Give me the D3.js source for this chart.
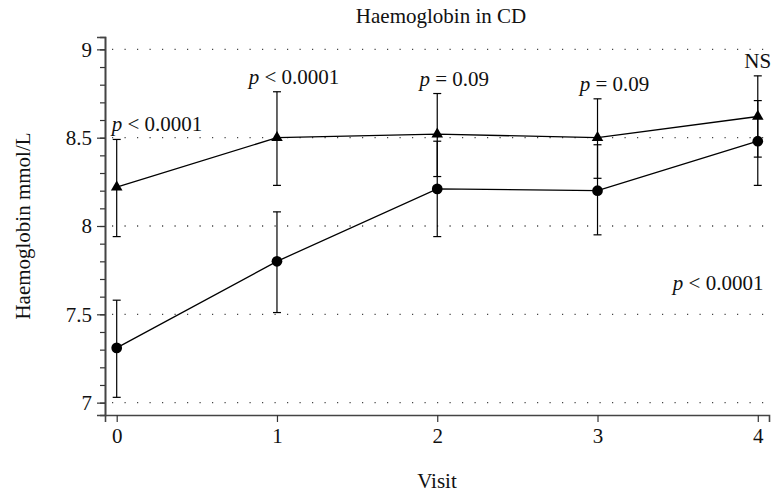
<!DOCTYPE html>
<html>
<head>
<meta charset="utf-8">
<script src="https://cdn.jsdelivr.net/npm/d3@7"></script>
<style>
  body { margin: 0; background: #fff; }
  text { font-family: "Liberation Serif", "DejaVu Serif", serif; fill: #111; }
</style>
</head>
<body>
<svg width="771" height="496"></svg>
<script>
// data
const visits = [0, 1, 2, 3, 4];
// upper series (triangles)
const triMean = [8.22, 8.50, 8.52, 8.50, 8.62];
const triLow  = [7.94, 8.23, 8.28, 8.27, 8.39];
const triHigh = [8.49, 8.76, 8.75, 8.72, 8.85];
// lower series (circles)
const circMean = [7.31, 7.80, 8.21, 8.20, 8.48];
const circLow  = [7.03, 7.51, 7.94, 7.95, 8.23];
const circHigh = [7.58, 8.08, 8.48, 8.46, 8.71];
// p-values per visit, shown above the triangle error bars
const pLabels = [["p", " < 0.0001"], ["p", " < 0.0001"], ["p", " = 0.09"], ["p", " = 0.09"], ["", "NS"]];
const trendLabel = ["p", " < 0.0001"];
const yTicks = [7, 7.5, 8, 8.5, 9];

const svg = d3.select("svg");
const fs = "21px";

// scales
const x = d3.scaleLinear().domain([-0.073, 4.07]).range([105, 769]);
const y = d3.scaleLinear().domain([6.93, 9.07]).range([415, 37]);

// dotted gridlines
svg.append("g")
  .selectAll("line")
  .data(yTicks)
  .join("line")
  .attr("x1", 112).attr("x2", 769)
  .attr("y1", d => y(d)).attr("y2", d => y(d))
  .attr("stroke", "#444")
  .attr("stroke-width", 1.3)
  .attr("stroke-dasharray", "1.2,11.3");

// y axis with minor ticks
const yAxis = svg.append("g")
  .attr("transform", "translate(105,0)");
yAxis.call(d3.axisLeft(y).tickValues(d3.range(7, 9.01, 0.1)).tickSize(5).tickFormat(""));
yAxis.append("g").call(d3.axisLeft(y).tickValues(yTicks).tickSize(8).tickPadding(5).tickFormat(d3.format("")));
yAxis.selectAll(".domain").attr("stroke", "#444").attr("stroke-width", 1.6);
yAxis.selectAll(".tick line").attr("stroke", "#333").attr("stroke-width", 1.2);
yAxis.selectAll("text").style("font-size", fs).attr("fill", "#111")
  .style("font-family", "'Liberation Serif', serif");

// x axis
const xAxis = svg.append("g")
  .attr("transform", "translate(0,415)")
  .call(d3.axisBottom(x).tickValues(visits).tickSize(7).tickPadding(6).tickFormat(d3.format("d")));
xAxis.select(".domain").attr("stroke", "#444").attr("stroke-width", 1.6);
xAxis.selectAll(".tick line").attr("stroke", "#333").attr("stroke-width", 1.2);
xAxis.selectAll("text").style("font-size", fs).attr("fill", "#111")
  .style("font-family", "'Liberation Serif', serif");

const line = d3.line().x((d, i) => x(visits[i])).y(d => y(d));

function drawSeries(mean, low, high, symbol) {
  const g = svg.append("g");
  g.append("path")
    .attr("d", line(mean))
    .attr("fill", "none")
    .attr("stroke", "#000")
    .attr("stroke-width", 1.3);
  const bars = g.selectAll(".err").data(visits).join("g");
  bars.append("line")
    .attr("x1", d => x(d)).attr("x2", d => x(d))
    .attr("y1", (d, i) => y(low[i])).attr("y2", (d, i) => y(high[i]));
  bars.append("line")
    .attr("x1", d => x(d) - 4).attr("x2", d => x(d) + 4)
    .attr("y1", (d, i) => y(low[i])).attr("y2", (d, i) => y(low[i]));
  bars.append("line")
    .attr("x1", d => x(d) - 4).attr("x2", d => x(d) + 4)
    .attr("y1", (d, i) => y(high[i])).attr("y2", (d, i) => y(high[i]));
  bars.selectAll("line").attr("stroke", "#000").attr("stroke-width", 1.2);
  g.selectAll(".pt").data(mean).join("path")
    .attr("transform", (d, i) => `translate(${x(visits[i])},${y(d)})`)
    .attr("d", symbol)
    .attr("fill", "#000");
}

drawSeries(triMean, triLow, triHigh, d3.symbol(d3.symbolTriangle, 58)());
drawSeries(circMean, circLow, circHigh, d3.symbol(d3.symbolCircle, 90)());

// p-value labels
function pText(sel, parts) {
  sel.append("tspan").style("font-style", "italic").text(parts[0]);
  sel.append("tspan").text(parts[1]);
}
pLabels.forEach((parts, i) => {
  const t = svg.append("text")
    .attr("x", i === 0 ? x(visits[i]) - 5 : x(visits[i]) + (i === 4 ? 0 : 17))
    .attr("y", y(triHigh[i]) - 8)
    .attr("text-anchor", i === 0 ? "start" : "middle")
    .style("font-size", fs);
  pText(t, parts);
});
const tl = svg.append("text")
  .attr("x", x(3.47)).attr("y", y(7.64))
  .style("font-size", fs);
pText(tl, trendLabel);

// titles
svg.append("text")
  .attr("x", 441).attr("y", 23)
  .attr("text-anchor", "middle")
  .style("font-size", fs)
  .text("Haemoglobin in CD");
svg.append("text")
  .attr("x", 437).attr("y", 488)
  .attr("text-anchor", "middle")
  .style("font-size", fs)
  .text("Visit");
svg.append("text")
  .attr("transform", "translate(30,226) rotate(-90)")
  .attr("text-anchor", "middle")
  .style("font-size", fs)
  .text("Haemoglobin mmol/L");
</script>
</body>
</html>
